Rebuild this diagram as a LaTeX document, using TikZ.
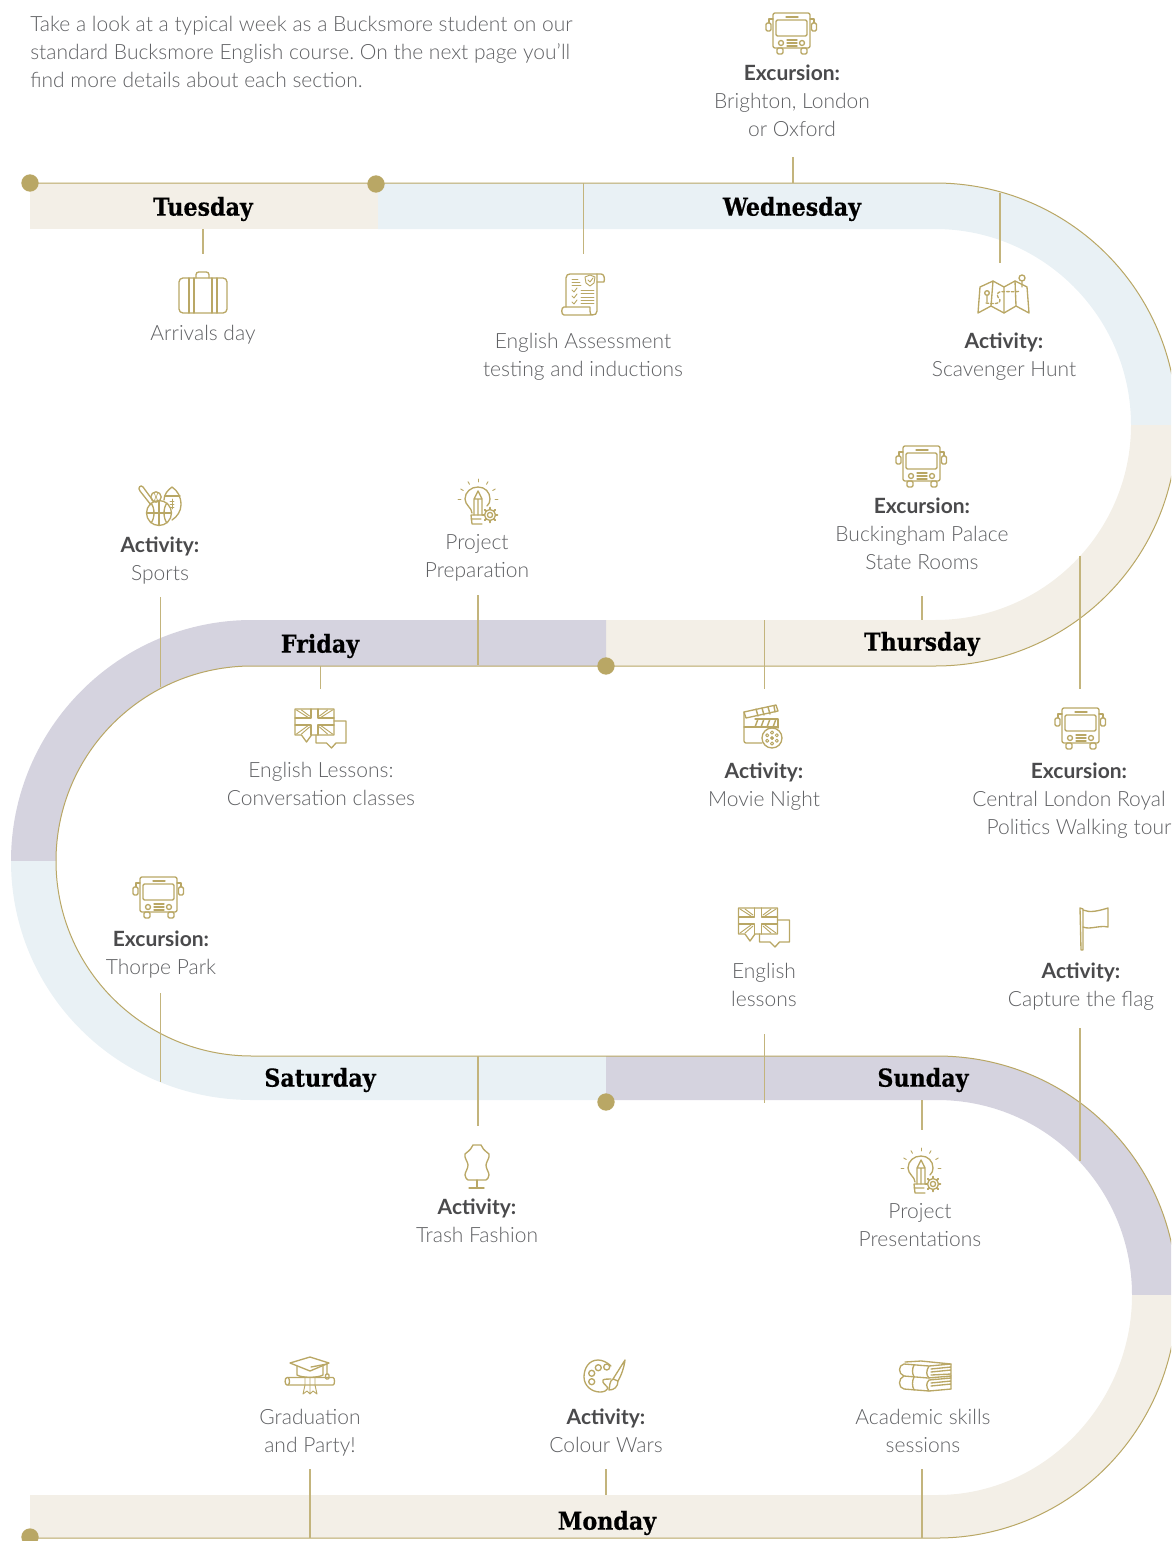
\documentclass[tikz,border=0pt]{standalone}
\usepackage{fontspec}
\usetikzlibrary{calc}
\setmainfont{Lato}[UprightFont=* Light, BoldFont=* Bold]
\newfontfamily\dayfont{DejaVu Serif Condensed}[UprightFont=* Bold, FakeBold=0.5]
\definecolor{gold}{HTML}{B9A765}
\definecolor{sand}{HTML}{F3EFE7}
\definecolor{sky}{HTML}{E9F1F5}
\definecolor{lilac}{HTML}{D5D3DF}
\definecolor{ink}{HTML}{5F6063}
\definecolor{inkdark}{HTML}{4A4A4C}
\tikzset{
  icon/.style={draw=gold, line width=1pt, line join=round, line cap=round},
  pics/busicon/.style={code={
    \draw[icon, rounded corners=1.5pt] (-19,-20) rectangle (18,15);
    \draw[icon, rounded corners=1pt] (-16,-13) rectangle (15,3);
    \draw[icon] (-6,-16) -- (6,-16) (-5,7) -- (5,7) (-5,10) -- (5,10) (-5,13) -- (5,13);
    \draw[icon] (-11,10) circle[radius=2.5] (10,10) circle[radius=2.5];
    \draw[icon, rounded corners=1pt] (-15,15) rectangle (-9,21) (9,15) rectangle (15,21);
    \draw[icon, rounded corners=1pt] (-26,-10) rectangle (-21,-2) (19.5,-10) rectangle (24.5,-2);
    \draw[icon] (-19,-14) -- (-23,-14) -- (-23,-10) (18,-14) -- (22,-14) -- (22,-10);
  }},
  pics/caseicon/.style={code={
    \draw[icon, rounded corners=3pt] (-24,-15) rectangle (24,20);
    \draw[icon, rounded corners=2pt] (-7,-15) -- (-7,-21) -- (6,-21) -- (6,-15);
    \draw[icon] (-14,-15) -- (-14,20) (-9,-15) -- (-9,20) (9,-15) -- (9,20) (14,-15) -- (14,20);
  }},
  pics/scrollicon/.style={code={
    \draw[icon] (-17,13) -- (-17,-16) .. controls (-17,-19) and (-15,-20) .. (-13,-20) -- (18,-20) .. controls (21,-20) and (22,-16) .. (21,-12) -- (14,-12);
    \draw[icon] (14,-20) -- (14,17) .. controls (14,20) and (12,21) .. (9,21) -- (-19,21) .. controls (-22,21) and (-22,13) .. (-19,13) -- (7,13) -- (7,17) .. controls (7,20) and (8,21) .. (9,21);
    \draw[icon, line width=0.5pt] (-11,-15) -- (-5,-15) (-11,-12) -- (-3,-12) (-11,-9) -- (-2,-9);
    \draw[icon, line width=0.5pt] (-2,-4) -- (11,-4) (-2,-1) -- (11,-1) (-2,3) -- (11,3) (-2,6) -- (11,6) (-2,9) -- (11,9);
    \draw[icon, line width=0.7pt] (-11,-4) -- (-9,-2) -- (-6,-6) (-11,2) -- (-9,4) -- (-6,0) (-11,8) -- (-9,10) -- (-6,6);
    \draw[icon, line width=0.7pt] (7,-19) -- (12,-17) -- (11,-11) -- (7,-8) -- (3,-11) -- (2,-17) -- cycle (5,-14) -- (7,-12) -- (10,-16);
  }},
  pics/mapicon/.style={code={
    \draw[icon] (-24,-9) -- (-11,-15) -- (0,-9) -- (11,-15) -- (23,-9) -- (25,17) -- (12,10) -- (0,17) -- (-13,10) -- (-26,17) -- cycle;
    \draw[icon] (-11,-15) -- (-13,10) (0,-9) -- (0,17) (11,-15) -- (12,10);
    \draw[icon] (-17,-3) circle[radius=2.3] (-17,-1) -- (-17,6) (18,-18) circle[radius=3] (18,-15) -- (18,-9);
    \draw[icon, dashed, dash pattern=on 2pt off 1.5pt] (-18,7) .. controls (-10,8) and (-3,8) .. (-4,4) .. controls (-5,2) and (-8,0) .. (-6,-3) .. controls (-4,-6) and (12,-3) .. (16,-5);
  }},
  pics/sporticon/.style={code={
    \draw[icon] (-1,8) circle[radius=12.5];
    \draw[icon] (-13,8) -- (11,8) (-1,-4) -- (-1,20);
    \draw[icon] (-9,-2) .. controls (-5,3) and (-5,13) .. (-9,18) (7,-2) .. controls (3,3) and (3,13) .. (7,18);
    \draw[icon] (-6,-3) -- (-17,-18) .. controls (-19,-21) and (-23,-17) .. (-20,-14) -- (-9,0);
    \draw[icon] (-4,-8) circle[radius=5.2];
    \draw[icon, line width=0.5pt] (-6,-12) .. controls (-4,-9) and (-4,-7) .. (-6,-4) (-2,-12) .. controls (-4,-9) and (-4,-7) .. (-2,-4);
    \draw[icon] (4,-5) .. controls (4,-11) and (8,-15) .. (12,-18) .. controls (18,-14) and (21,-8) .. (21,0) .. controls (21,6) and (17,12) .. (12,15);
    \draw[icon] (5,-9) -- (20,-9);
    \draw[icon, line width=0.7pt] (12,-6) -- (12,4) (10,-4) -- (14,-4) (10,-1) -- (14,-1) (10,2) -- (14,2);
  }},
  pics/gearicon/.style={code={
    \draw[icon] (0,0) circle[radius=5.5] (0,0) circle[radius=2.6];
    \foreach \ang in {0,45,...,315} \draw[icon, line width=1.4pt] (\ang:5.5) -- (\ang:7.5);
  }},
  pics/bulbicon/.style={code={
    \draw[icon] (-6,10) .. controls (-6,5) and (-13,2) .. (-13,-4) .. controls (-13,-11) and (-7,-16) .. (0,-16) .. controls (7,-16) and (12,-11) .. (12,-4) .. controls (12,-1) and (11,1) .. (9,3);
    \draw[icon] (-7,12) -- (4,12) (-7,16) -- (3,16) (-6,21) -- (4,21) (-7,12) -- (-6,21);
    \draw[icon] (-4,12) -- (-4,-4) -- (0,-12) -- (4,-4) -- (4,12) (-4,-4) -- (4,-4) (0,-4) -- (0,12);
    \foreach \ang in {30,60,90,120,150,0,180} \draw[icon, line width=0.7pt] ($(0,-4)+(-\ang:17)$) -- ($(0,-4)+(-\ang:20)$);
    \pic at (12,12) {gearicon};
  }},
  pics/jackicon/.style={code={
    \draw[icon] (-25.5,-20) -- (13.5,-20) -- (13.5,6) -- (-9,6) -- (-14,13) -- (-19,6) -- (-25.5,6) -- cycle;
    \draw[icon] (-9.5,-20) -- (-9.5,-11) -- (-25.5,-11) (-2.5,-20) -- (-2.5,-11) -- (13.5,-11) (-25.5,-4) -- (-9.5,-4) -- (-9.5,6) (13.5,-4) -- (-2.5,-4) -- (-2.5,6);
    \draw[icon, line width=0.7pt] (-24,-19) -- (-13,-12) (-19,-19) -- (-11,-13) (12,-19) -- (1,-12) (7,-19) -- (-1,-13) (-24,5) -- (-13,-3) (-19,5) -- (-11,-2) (12,5) -- (1,-3) (7,5) -- (-1,-2);
    \draw[icon] (13.5,-8) -- (25.5,-8) -- (25.5,14) -- (15.5,14) -- (11,19) -- (6,14) -- (-4.5,14) -- (-4.5,6);
  }},
  pics/clapicon/.style={code={
    \draw[icon] (-19,-14) -- (-19,15) .. controls (-19,16) and (-18,17) .. (-17,17) -- (-1,17);
    \draw[icon] (-19,1) -- (15,1) -- (15,2);
    \draw[icon] (-8,-7) -- (15,-7) -- (15,1);
    \draw[icon, line width=1.1pt] (-5,-7) -- (-8,1) (1,-7) -- (-2,1) (7,-7) -- (4,1) (13,-7) -- (10,1);
    \draw[icon] (-19,-14) -- (13,-21) -- (15,-15) -- (-17,-8) -- cycle;
    \draw[icon, line width=1.1pt] (-7,-17) -- (-5,-10) (-1,-18) -- (1,-11) (5,-19) -- (7,-12) (11,-20) -- (12,-14);
    \draw[icon] (9,12) circle[radius=10] (9,12) circle[radius=1.3];
    \foreach \ang in {30,90,...,330} \draw[icon, line width=0.7pt] ($(9,12)+(\ang:5.5)$) circle[radius=1.6];
  }},
  pics/flagicon/.style={code={
    \draw[icon] (-14,-21) -- (-13,21) -- (-11,21) -- (-11,-20) -- cycle;
    \draw[icon] (-11,-19) .. controls (-4,-16) and (4,-18) .. (14,-21) -- (14,-2) .. controls (5,-4) and (-4,1) .. (-11,-2);
  }},
  pics/formicon/.style={code={
    \draw[icon] (-4,-21) .. controls (-5,-18) and (-7,-16) .. (-12,-12) .. controls (-13,-8) and (-9,-4) .. (-9,-1) .. controls (-9,3) and (-12,6) .. (-12,9) .. controls (-12,12) and (-10,13) .. (-9,14) -- (9,14) .. controls (10,13) and (12,12) .. (12,9) .. controls (12,6) and (9,3) .. (9,-1) .. controls (9,-4) and (13,-8) .. (12,-12) .. controls (7,-16) and (5,-18) .. (4,-21) -- cycle;
    \draw[icon] (0,14) -- (0,22) (-8,22) -- (7,22);
  }},
  pics/capicon/.style={code={
    \draw[icon] (-20,-14) -- (0,-20) -- (19,-14) -- (0,-6) -- cycle;
    \draw[icon] (-13,-11) -- (-13,-2) .. controls (-8,1) and (8,1) .. (13,-2) -- (13,-11);
    \draw[icon] (1,-10) -- (17,-13) -- (17,-3);
    \draw[icon, rounded corners=0.8pt] (15.5,-3) rectangle (19,2);
    \draw[icon] (-23,0.5) -- (23,0.5) .. controls (25,0.5) and (25,8) .. (23,8) -- (-23,8) .. controls (-25.5,8) and (-25.5,0.5) .. (-23,0.5);
    \draw[icon] (-22,0.5) .. controls (-20,2) and (-20,7) .. (-22,8);
    \draw[icon, line width=0.7pt] (-5,0.5) -- (-5,8) -- (-7,17) -- (-3,14) -- (0,17) -- (3,14) -- (7,17) -- (5,8) -- (5,0.5) (0,0.5) -- (0,17);
  }},
  pics/paleticon/.style={code={
    \draw[icon] (6,-10) .. controls (2,-14) and (-3,-16) .. (-7,-16) .. controls (-16,-16) and (-21,-8) .. (-21,1) .. controls (-21,10) and (-13,16) .. (-5,16) .. controls (-1,16) and (1,15) .. (3,12) .. controls (0,8) and (-3,7) .. (-2,4) .. controls (-1,3) and (3,3) .. (6,3);
    \draw[icon] (-13.3,-2.7) circle[radius=3] (-6.7,-8.3) circle[radius=3] (1.7,-9) circle[radius=3] (-13.3,5.7) circle[radius=3];
    \draw[icon] (20,-16) -- (8,3) (20,-16) .. controls (19,-8) and (16,0) .. (13,5) (8,3) -- (13,5) (8,3) .. controls (4,5) and (5,11) .. (4,14) .. controls (9,14) and (13,11) .. (13,5);
  }},
  pics/booksicon/.style={code={
    \draw[icon] (-18,-15) -- (-2,-16) -- (28,-13) -- (6,-11) -- (-19,-13) .. controls (-25,-12) and (-25,-3) .. (-19,-1) -- (5,1) -- (28,-1) -- (28,1) -- (6,3);
    \draw[icon] (-19,-1) .. controls (-25,1) and (-25,11) .. (-19,12) -- (6,14) -- (28,12);
    \draw[icon] (6,-11) .. controls (3,-6) and (3,-2) .. (6,1) (6,3) .. controls (3,6) and (3,10) .. (6,14);
    \draw[icon] (-9,-12) .. controls (-11,-8) and (-11,-4) .. (-9,0) (-9,0) .. controls (-11,4) and (-11,9) .. (-9,13);
    \draw[icon] (8,-8) -- (28,-10) (8,-5) -- (28,-7) (8,-2) -- (28,-3) (28,-13) -- (28,-1) (8,6) -- (28,4) (8,9) -- (28,7) (28,1) -- (28,12);
  }}
}
\begin{document}
\begin{tikzpicture}[
  x=0.75pt, y=-0.75pt,
  rail/.style={draw=gold, line width=0.75pt},
  tick/.style={draw=gold!85, line width=0.9pt},
  dot/.style={circle, fill=gold, minimum size=13pt, inner sep=0pt},
  dayname/.style={font=\dayfont\fontsize{18.5}{22}\selectfont, text=black, inner sep=0pt},
  caption/.style={align=center, font=\frenchspacing\fontsize{15.75}{21}\selectfont, text=ink, inner sep=0pt},
  intro/.style={align=left, anchor=north west, font=\frenchspacing\fontsize{15.75}{21}\selectfont, text=ink, inner sep=0pt}
]
\useasboundingbox (0,0) rectangle (1171,1541);
\clip (0,0) rectangle (1171,1541);

% Ribbon pieces
\fill[sand] (30,183) rectangle (378,229);
\fill[sky] (378,183) -- (935,183) .. controls +(134,0) and +(0,-134) .. (1177,425) -- (1131,425) .. controls +(0,-108) and +(108,0) .. (935,229) -- (378,229) -- cycle;
\fill[sand] (1177,425) .. controls +(0,134) and +(134,0) .. (935,666) -- (606,666) -- (606,620) -- (935,620) .. controls +(108,0) and +(0,108) .. (1131,425) -- cycle;
\fill[lilac] (606,620) -- (252,620) .. controls +(-133,0) and +(0,-133) .. (11,861) -- (56,861) .. controls +(0,-108) and +(-108,0) .. (252,666) -- (606,666) -- cycle;
\fill[sky] (11,861) .. controls +(0,133) and +(-133,0) .. (252,1100) -- (606,1100) -- (606,1056) -- (252,1056) .. controls +(-108,0) and +(0,108) .. (56,861) -- cycle;
\fill[lilac] (606,1056) -- (937,1056) .. controls +(133,0) and +(0,-133) .. (1177,1295) -- (1132,1295) .. controls +(0,-108) and +(108,0) .. (937,1100) -- (606,1100) -- cycle;
\fill[sand] (1177,1295) .. controls +(0,134) and +(133,0) .. (937,1538) -- (30,1538) -- (30,1495) -- (937,1495) .. controls +(108,0) and +(0,108) .. (1132,1295) -- cycle;

% Gold rail along the ribbon
\draw[rail] (30,183) -- (935,183) .. controls +(134,0) and +(0,-134) .. (1177,425) .. controls +(0,134) and +(134,0) .. (935,666) -- (252,666) .. controls +(-108,0) and +(0,-108) .. (56,861) .. controls +(0,108) and +(-108,0) .. (252,1056) -- (937,1056) .. controls +(133,0) and +(0,-133) .. (1177,1295) .. controls +(0,134) and +(133,0) .. (937,1538) -- (30,1538);

% Ticks
\foreach \tname/\tx/\tya/\tyb in {tue/203/229/254, assess/583.5/183/254, trip/793/157/183, hunt/1000/193/263, palace/922/596/620, royal/1080/556/689, movie/764.5/620/689, prep/478/595/665, talk/320.5/666/689, sports/160.5/597/687, thorpe/160.5/993/1082, trash/478/1056/1126, lessons/764.5/1034/1103, pres/922/1100/1130, capture/1080/1028/1161, skills/922/1469/1538, colour/606/1469/1495, grad/310/1469/1538} {
  \coordinate (\tname a) at (\tx,\tya);
  \coordinate (\tname b) at (\tx,\tyb);
  \draw[tick] (\tname a) -- (\tname b);
}

% Dots
\node[dot] (dot1) at (30,183) {};
\node[dot] (dot2) at (376,184) {};
\node[dot] (dot3) at (606,666) {};
\node[dot] (dot4) at (606,1102) {};
\node[dot] (dot5) at (30,1537) {};

% Days
\node[dayname] (tuesday) at (203,209) {Tuesday};
\node[dayname] (wednesday) at (792,209) {Wednesday};
\node[dayname] (thursday) at (922,644) {Thursday};
\node[dayname] (friday) at (320,646) {Friday};
\node[dayname] (saturday) at (320,1080) {Saturday};
\node[dayname] (sunday) at (923,1080) {Sunday};
\node[dayname] (monday) at (607,1523) {Monday};

% Intro
\node[intro] (introtext) at (30,16) {Take a look at a typical week as a Bucksmore student on our\\standard Bucksmore English course. On the next page you'll\\find more details about each section.};

% Captions
\node[caption] (arrivals) at (203,335) {Arrivals day};
\node[caption] (assessment) at (583,357) {English Assessment\\testing and inductions};
\node[caption] (brighton) at (792,101) {\textcolor{inkdark}{\textbf{Excursion:}}\\Brighton, London\\or Oxford};
\node[caption] (scavenger) at (1004,357) {\textcolor{inkdark}{\textbf{Activity:}}\\Scavenger Hunt};
\node[caption] (buckingham) at (922,534) {\textcolor{inkdark}{\textbf{Excursion:}}\\Buckingham Palace\\State Rooms};
\node[caption] (preparation) at (477,558) {Project\\Preparation};
\node[caption] (sportstext) at (160,561) {\textcolor{inkdark}{\textbf{Activity:}}\\Sports};
\node[caption] (conversation) at (321,784) {English Lessons:\\Conversation classes};
\node[caption] (movienight) at (764,787) {\textcolor{inkdark}{\textbf{Activity:}}\\Movie Night};
\node[caption] (central) at (1079,801) {\textcolor{inkdark}{\textbf{Excursion:}}\\Central London Royal\rule{15pt}{0pt}\\Politics Walking tour};
\node[caption] (thorpepark) at (161,955) {\textcolor{inkdark}{\textbf{Excursion:}}\\Thorpe Park};
\node[caption] (englishles) at (764,985) {English\\lessons};
\node[caption] (captureflag) at (1081,987) {\textcolor{inkdark}{\textbf{Activity:}}\\Capture the flag};
\node[caption] (trashfash) at (477,1221) {\textcolor{inkdark}{\textbf{Activity:}}\\Trash Fashion};
\node[caption] (presentations) at (920,1225) {Project\\Presentations};
\node[caption] (gradparty) at (310,1433) {Graduation\\and Party!};
\node[caption] (colourwars) at (606,1431) {\textcolor{inkdark}{\textbf{Activity:}}\\Colour Wars};
\node[caption] (academic) at (923,1431) {Academic skills\\sessions};

% Icons
\pic at (792,33) {busicon};
\pic at (922,466) {busicon};
\pic at (1081,728) {busicon};
\pic at (159,897) {busicon};
\pic at (203,293) {caseicon};
\pic at (583,294) {scrollicon};
\pic at (1004,296) {mapicon};
\pic at (160,505) {sporticon};
\pic at (478,503) {bulbicon};
\pic at (921,1172) {bulbicon};
\pic at (320.5,729) {jackicon};
\pic at (764,928) {jackicon};
\pic at (763,726) {clapicon};
\pic at (1094,929) {flagicon};
\pic at (477,1166) {formicon};
\pic at (310,1377) {capicon};
\pic at (605,1376) {paleticon};
\pic at (923,1377) {booksicon};
\end{tikzpicture}
\end{document}
